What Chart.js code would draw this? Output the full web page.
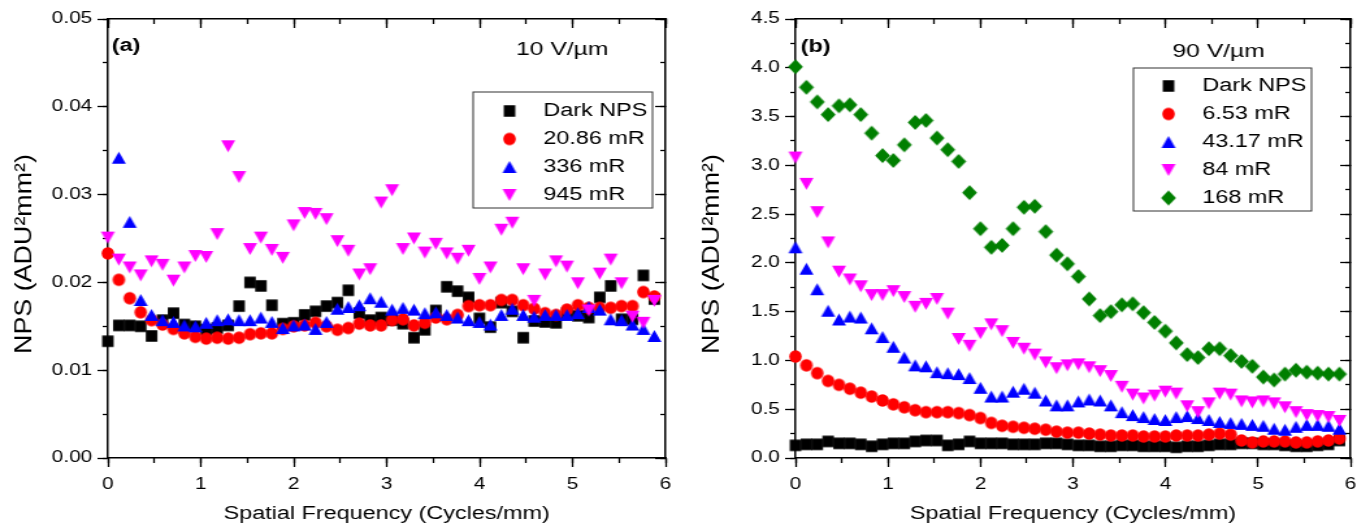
<!DOCTYPE html>
<html>
<head>
<meta charset="utf-8">
<script src="https://cdn.jsdelivr.net/npm/chart.js@4.4.0/dist/chart.umd.min.js"></script>
<style>
  html, body { margin: 0; padding: 0; background: #fff; }
  #wrap { display: flex; width: 1370px; height: 531px; }
  /* canvases are drawn 527 px wide and stretched to 685 px, like the source figure */
  #wrap canvas { width: 685px !important; height: 531px !important; display: block; }
</style>
</head>
<body>
<div id="wrap">
  <canvas id="npsA" width="527" height="531"></canvas>
  <canvas id="npsB" width="527" height="531"></canvas>
</div>
<script>
// ── NPS vs spatial frequency, two field strengths ──

const FREQ = [0, 0.118, 0.235, 0.353, 0.470, 0.588, 0.706, 0.823, 0.941, 1.058,
  1.176, 1.294, 1.411, 1.529, 1.646, 1.764, 1.882, 1.999, 2.117, 2.234,
  2.352, 2.470, 2.587, 2.705, 2.822, 2.940, 3.058, 3.175, 3.293, 3.410,
  3.528, 3.646, 3.763, 3.881, 3.998, 4.116, 4.234, 4.351, 4.469, 4.586,
  4.704, 4.822, 4.939, 5.057, 5.174, 5.292, 5.410, 5.527, 5.645, 5.762, 5.880];

// panel (a) 10 V/um
const LABELS_A = ['Dark NPS', '20.86 mR', '336 mR', '945 mR'];
const DARK_A = [0.0133, 0.0151, 0.0151, 0.0150, 0.0139, 0.0157, 0.0165, 0.0152, 0.0150, 0.0146,
  0.0148, 0.0151, 0.0173, 0.0200, 0.0196, 0.0174, 0.0153, 0.0154, 0.0163, 0.0167,
  0.0173, 0.0177, 0.0191, 0.0165, 0.0157, 0.0160, 0.0157, 0.0153, 0.0137, 0.0146,
  0.0168, 0.0195, 0.0190, 0.0183, 0.0159, 0.0149, 0.0177, 0.0167, 0.0137, 0.0156,
  0.0155, 0.0154, 0.0165, 0.0162, 0.0160, 0.0183, 0.0196, 0.0158, 0.0158, 0.0208, 0.0181];
const LOW_A = [0.0233, 0.0203, 0.0182, 0.0166, 0.0157, 0.0152, 0.0147, 0.0142, 0.0138, 0.0136,
  0.0137, 0.0136, 0.0137, 0.0141, 0.0142, 0.0142, 0.0147, 0.0150, 0.0151, 0.0154,
  0.0150, 0.0146, 0.0148, 0.0153, 0.0151, 0.0151, 0.0157, 0.0158, 0.0151, 0.0154,
  0.0160, 0.0158, 0.0163, 0.0173, 0.0174, 0.0174, 0.0180, 0.0180, 0.0174, 0.0170,
  0.0165, 0.0163, 0.0169, 0.0174, 0.0171, 0.0171, 0.0171, 0.0173, 0.0173, 0.0189, 0.0184];
const MID_A = [null, 0.0342, 0.0269, 0.0180, 0.0163, 0.0157, 0.0155, 0.0151, 0.0150, 0.0154,
  0.0157, 0.0158, 0.0157, 0.0157, 0.0160, 0.0155, 0.0148, 0.0151, 0.0152, 0.0147,
  0.0155, 0.0170, 0.0172, 0.0174, 0.0182, 0.0178, 0.0169, 0.0171, 0.0169, 0.0165,
  0.0166, 0.0163, 0.0160, 0.0157, 0.0155, 0.0152, 0.0163, 0.0170, 0.0163, 0.0161,
  0.0163, 0.0163, 0.0163, 0.0165, 0.0172, 0.0169, 0.0158, 0.0157, 0.0152, 0.0147, 0.0139];
const HIGH_A = [0.0251, 0.0226, 0.0217, 0.0208, 0.0224, 0.0220, 0.0202, 0.0217, 0.0230, 0.0229,
  0.0255, 0.0355, 0.0320, 0.0238, 0.0251, 0.0237, 0.0228, 0.0265, 0.0279, 0.0278,
  0.0272, 0.0247, 0.0236, 0.0209, 0.0215, 0.0291, 0.0305, 0.0238, 0.0250, 0.0234,
  0.0244, 0.0233, 0.0227, 0.0236, 0.0204, 0.0217, 0.0260, 0.0268, 0.0215, 0.0179,
  0.0209, 0.0224, 0.0218, 0.0199, 0.0168, 0.0210, 0.0226, 0.0199, 0.0161, 0.0154, 0.0179];

// panel (b) 90 V/um
const LABELS_B = ['Dark NPS', '6.53 mR', '43.17 mR', '84 mR', '168 mR'];
const DARK_B = [0.13, 0.14, 0.14, 0.17, 0.15, 0.15, 0.14, 0.12, 0.14, 0.15,
  0.15, 0.17, 0.18, 0.18, 0.13, 0.14, 0.17, 0.15, 0.15, 0.15,
  0.14, 0.14, 0.14, 0.15, 0.15, 0.14, 0.13, 0.13, 0.12, 0.12,
  0.13, 0.13, 0.12, 0.12, 0.12, 0.11, 0.12, 0.12, 0.13, 0.14,
  0.14, 0.15, 0.15, 0.14, 0.14, 0.13, 0.12, 0.12, 0.13, 0.14, 0.18];
const D1_B = [1.04, 0.95, 0.87, 0.79, 0.75, 0.71, 0.67, 0.63, 0.59, 0.55,
  0.52, 0.49, 0.47, 0.47, 0.47, 0.46, 0.44, 0.41, 0.36, 0.33,
  0.32, 0.31, 0.30, 0.29, 0.27, 0.26, 0.26, 0.25, 0.24, 0.23,
  0.23, 0.23, 0.22, 0.22, 0.22, 0.23, 0.23, 0.23, 0.24, 0.25,
  0.24, 0.18, 0.16, 0.17, 0.17, 0.17, 0.16, 0.16, 0.17, 0.18, 0.20];
const D2_B = [2.16, 1.94, 1.73, 1.51, 1.42, 1.45, 1.44, 1.33, 1.24, 1.14,
  1.03, 0.95, 0.94, 0.88, 0.87, 0.86, 0.82, 0.72, 0.63, 0.63,
  0.68, 0.71, 0.67, 0.59, 0.54, 0.54, 0.58, 0.60, 0.59, 0.54,
  0.47, 0.44, 0.42, 0.40, 0.39, 0.42, 0.43, 0.41, 0.39, 0.37,
  0.36, 0.35, 0.34, 0.33, 0.30, 0.29, 0.32, 0.34, 0.34, 0.33, 0.30];
const D3_B = [3.08, 2.81, 2.52, 2.21, 1.91, 1.83, 1.76, 1.67, 1.67, 1.71,
  1.65, 1.55, 1.58, 1.63, 1.48, 1.22, 1.15, 1.28, 1.37, 1.30,
  1.18, 1.12, 1.06, 0.98, 0.92, 0.95, 0.96, 0.93, 0.89, 0.84,
  0.73, 0.65, 0.61, 0.64, 0.68, 0.66, 0.53, 0.47, 0.56, 0.66,
  0.65, 0.58, 0.57, 0.58, 0.56, 0.52, 0.47, 0.44, 0.43, 0.42, 0.38];
const D4_B = [4.01, 3.80, 3.65, 3.52, 3.61, 3.62, 3.52, 3.33, 3.10, 3.05,
  3.21, 3.44, 3.46, 3.28, 3.16, 3.04, 2.72, 2.35, 2.16, 2.18,
  2.35, 2.57, 2.58, 2.32, 2.08, 1.99, 1.86, 1.63, 1.46, 1.50,
  1.57, 1.58, 1.49, 1.39, 1.30, 1.18, 1.06, 1.03, 1.12, 1.12,
  1.05, 0.99, 0.94, 0.83, 0.80, 0.86, 0.90, 0.88, 0.87, 0.86, 0.86];

const FONT = "'Liberation Sans', Arial, Helvetica, sans-serif";
const SX = 685 / 527;   // css stretch of each canvas

Chart.defaults.font.family = FONT;
Chart.defaults.color = '#000';

// markers are pre-squeezed so they come out round/square after the stretch
function marker(shape, color, w, h) {
  const c = document.createElement('canvas');
  c.width = Math.ceil(w / SX) + 2;
  c.height = Math.ceil(h) + 2;
  const g = c.getContext('2d');
  g.fillStyle = color;
  g.translate(c.width / 2, c.height / 2);
  g.scale(1 / SX, 1);
  g.beginPath();
  if (shape === 'square') {
    g.rect(-w / 2, -h / 2, w, h);
  } else if (shape === 'circle') {
    g.ellipse(0, 0, w / 2, h / 2, 0, 0, Math.PI * 2);
  } else if (shape === 'up') {
    g.moveTo(0, -h / 2); g.lineTo(w / 2, h / 2); g.lineTo(-w / 2, h / 2);
  } else if (shape === 'down') {
    g.moveTo(0, h / 2); g.lineTo(w / 2, -h / 2); g.lineTo(-w / 2, -h / 2);
  } else {
    g.moveTo(0, -h / 2); g.lineTo(w / 2, 0); g.lineTo(0, h / 2); g.lineTo(-w / 2, 0);
  }
  g.closePath();
  g.fill();
  return c;
}

const MARK = {
  dark: marker('square', '#000000', 11.5, 11.5),
  red: marker('circle', '#FF0000', 12.5, 12.5),
  blue: marker('up', '#0000FF', 14, 12),
  pink: marker('down', '#FF00FF', 14, 12),
  green: marker('diamond', '#007F00', 15, 15)
};

function series(label, values, style, order) {
  return {
    label,
    data: FREQ.map((f, i) => ({ x: f, y: values[i] })),
    pointStyle: style,
    pointRadius: 7,
    showLine: false,
    clip: false,
    order
  };
}

function scaleSet(p) {
  const tickLine = { drawOnChartArea: false, tickColor: '#000', tickWidth: 1.3 };
  const yTicks = { stepSize: p.yStep, autoSkip: false, padding: 4, font: { size: 16 },
    callback: v => v.toFixed(p.digits) };
  return {
    x: {
      type: 'linear', axis: 'x', position: 'bottom', weight: 1, min: 0, max: 6,
      ticks: { stepSize: 1, autoSkip: false, padding: 8, maxRotation: 0, font: { size: 16 } },
      grid: { ...tickLine, tickLength: 9 },
      border: { color: '#000', width: 1.5 },
      title: { display: true, text: 'Spatial Frequency (Cycles/mm)', font: { size: 18 },
        padding: { top: 0, bottom: 6 } },
      afterFit: s => { s.height = 73; }
    },
    xMinor: {
      type: 'linear', axis: 'x', position: 'bottom', weight: 0, min: 0, max: 6,
      ticks: { stepSize: 0.5, display: false, autoSkip: false },
      grid: { ...tickLine, tickLength: 5 },
      border: { display: false },
      afterFit: s => { s.height = 0; }
    },
    xTop: {
      type: 'linear', axis: 'x', position: 'top', weight: 1, min: 0, max: 6,
      ticks: { stepSize: 1, display: false, autoSkip: false },
      grid: { ...tickLine, tickLength: -9 },
      border: { color: '#000', width: 1.5 },
      afterFit: s => { s.height = 0; }
    },
    xTopMinor: {
      type: 'linear', axis: 'x', position: 'top', weight: 0, min: 0, max: 6,
      ticks: { stepSize: 0.5, display: false, autoSkip: false },
      grid: { ...tickLine, tickLength: -5 },
      border: { display: false },
      afterFit: s => { s.height = 0; }
    },
    y: {
      type: 'linear', axis: 'y', position: 'left', weight: 1, min: 0, max: p.yMax,
      ticks: yTicks,
      grid: { ...tickLine, tickLength: 8 },
      border: { color: '#000', width: 1.5 },
      afterFit: s => { s.width = p.yWidth; }
    },
    yMinor: {
      type: 'linear', axis: 'y', position: 'left', weight: 0, min: 0, max: p.yMax,
      ticks: { stepSize: p.yStep / 2, display: false, autoSkip: false },
      grid: { ...tickLine, tickLength: 4 },
      border: { display: false },
      afterFit: s => { s.width = 0; }
    },
    yRight: {
      type: 'linear', axis: 'y', position: 'right', weight: 1, min: 0, max: p.yMax,
      ticks: { stepSize: p.yStep, display: false, autoSkip: false },
      grid: { ...tickLine, tickLength: -8 },
      border: { color: '#000', width: 1.5 },
      afterFit: s => { s.width = 0; }
    },
    yRightMinor: {
      type: 'linear', axis: 'y', position: 'right', weight: 0, min: 0, max: p.yMax,
      ticks: { stepSize: p.yStep / 2, display: false, autoSkip: false },
      grid: { ...tickLine, tickLength: -4 },
      border: { display: false },
      afterFit: s => { s.width = 0; }
    }
  };
}

/** panel letter, field label, boxed legend and the y title */
const panelDecor = {
  id: 'panelDecor',
  afterDraw(chart, args, o) {
    const ctx = chart.ctx;
    ctx.save();
    ctx.fillStyle = '#000';
    ctx.textAlign = 'left';
    ctx.textBaseline = 'alphabetic';
    ctx.font = `bold 18px ${FONT}`;
    ctx.fillText(o.letter, o.letterX, o.letterY);
    ctx.font = `19px ${FONT}`;
    ctx.fillText(o.field, o.fieldX, o.fieldY);

    const L = o.legend;
    ctx.fillStyle = '#fff';
    ctx.fillRect(L.left, L.top, L.right - L.left, L.bottom - L.top);
    ctx.strokeStyle = '#333';
    ctx.lineWidth = 1;
    ctx.strokeRect(L.left, L.top, L.right - L.left, L.bottom - L.top);
    ctx.fillStyle = '#000';
    ctx.font = `18px ${FONT}`;
    ctx.textBaseline = 'middle';
    chart.data.datasets.forEach((ds, i) => {
      const y = L.firstRow + i * L.rowGap;
      const img = ds.pointStyle;
      ctx.drawImage(img, L.markerX - img.width / 2, y - img.height / 2);
      ctx.fillText(ds.label, L.textX, y);
    });

    // y title, stretched along its length like the source
    ctx.font = `19px ${FONT}`;
    ctx.textAlign = 'center';
    ctx.translate(o.yTitleX, o.yTitleY);
    ctx.rotate(-Math.PI / 2);
    const w = ctx.measureText(o.yTitle).width;
    ctx.scale(o.yTitleLen / w, 1);
    ctx.fillText(o.yTitle, 0, 0);
    ctx.restore();
  }
};

function makePanel(id, datasets, scaleOpts, decor) {
  return new Chart(document.getElementById(id), {
    type: 'scatter',
    data: { datasets },
    options: {
      responsive: false,
      devicePixelRatio: 1,
      animation: false,
      events: [],
      layout: { padding: { top: 19, right: 15, bottom: 0, left: 0 } },
      scales: scaleSet(scaleOpts),
      plugins: {
        legend: { display: false },
        tooltip: { enabled: false },
        panelDecor: decor
      }
    },
    plugins: [panelDecor]
  });
}

makePanel('npsA', [
  series(LABELS_A[0], DARK_A, MARK.dark, 4),
  series(LABELS_A[1], LOW_A, MARK.red, 3),
  series(LABELS_A[2], MID_A, MARK.blue, 2),
  series(LABELS_A[3], HIGH_A, MARK.pink, 1)
], { yMax: 0.05, yStep: 0.01, digits: 2, yWidth: 83 }, {
  letter: '(a)', letterX: 86, letterY: 51,
  field: '10 V/\u00B5m', fieldX: 397, fieldY: 55,
  legend: { left: 364, right: 502, top: 92, bottom: 208, markerX: 392, textX: 418, firstRow: 111, rowGap: 28 },
  yTitle: 'NPS (ADU\u00B2mm\u00B2)', yTitleX: 18.5, yTitleY: 254, yTitleLen: 200
});

makePanel('npsB', [
  series(LABELS_B[0], DARK_B, MARK.dark, 4),
  series(LABELS_B[1], D1_B, MARK.red, 3),
  series(LABELS_B[2], D2_B, MARK.blue, 2),
  series(LABELS_B[3], D3_B, MARK.pink, 1),
  series(LABELS_B[4], D4_B, MARK.green, 0)
], { yMax: 4.5, yStep: 0.5, digits: 1, yWidth: 85 }, {
  letter: '(b)', letterX: 89, letterY: 52,
  field: '90 V/\u00B5m', fieldX: 375, fieldY: 57,
  legend: { left: 345, right: 482, top: 68, bottom: 211, markerX: 372, textX: 398, firstRow: 86, rowGap: 28 },
  yTitle: 'NPS (ADU\u00B2mm\u00B2)', yTitleX: 21, yTitleY: 254, yTitleLen: 200
});
</script>
</body>
</html>
